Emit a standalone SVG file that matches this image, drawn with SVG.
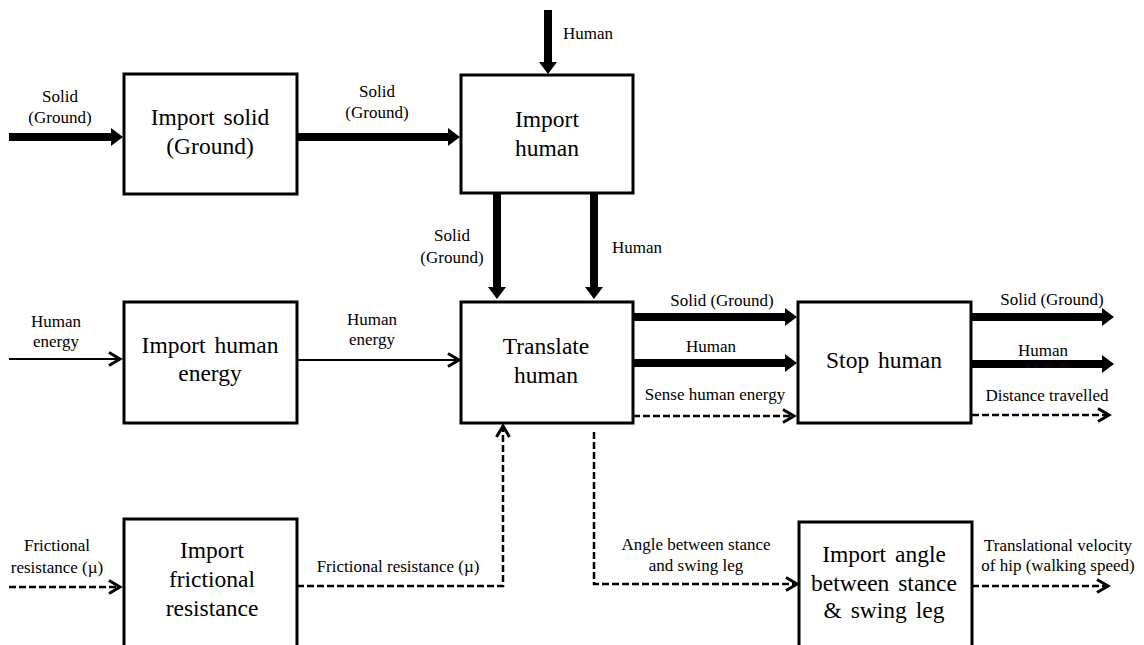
<svg xmlns="http://www.w3.org/2000/svg" width="1144" height="645" viewBox="0 0 1144 645">
<style>
.box{fill:#fff;stroke:#000;stroke-width:3}
.bt{font-family:"Liberation Serif","DejaVu Serif",serif;font-size:23.5px;text-anchor:middle;fill:#000;word-spacing:3px}
.lb{font-family:"Liberation Serif","DejaVu Serif",serif;font-size:17px;text-anchor:middle;fill:#000}
.thick{fill:none;stroke:#000;stroke-width:8;marker-end:url(#thickHead)}
.thin{fill:none;stroke:#000;stroke-width:2;marker-end:url(#open)}
.dash{fill:none;stroke:#000;stroke-width:2.5;stroke-dasharray:7 3;marker-end:url(#open)}
</style>
<defs>
<marker id="thickHead" markerUnits="userSpaceOnUse" markerWidth="12" markerHeight="18" viewBox="0 0 12 18" refX="0" refY="9" orient="auto" overflow="visible">
<path d="M0,0 L12,9 L0,18 Z" fill="#000" stroke="none"/>
</marker>
<marker id="open" markerUnits="userSpaceOnUse" markerWidth="14" markerHeight="16" viewBox="0 0 14 16" refX="12" refY="8" orient="auto" overflow="visible">
<path d="M1,1.5 L12,8 L1,14.5" fill="none" stroke="#000" stroke-width="3" stroke-dasharray="none"/>
</marker>
</defs>

<g id="connectors">
<path class="thick" d="M9,137 H111"/>
<path class="thick" d="M297,137 H448"/>
<path class="thick" d="M548,10 V62"/>
<path class="thick" d="M497,193 V287"/>
<path class="thick" d="M594,193 V287"/>
<path class="thick" d="M633,317 H785"/>
<path class="thick" d="M633,363 H785"/>
<path class="thick" d="M971,317 H1102"/>
<path class="thick" d="M971,364 H1102"/>
<path class="thin" d="M9,359 H120"/>
<path class="thin" d="M297,360 H459"/>
<path class="dash" d="M633,416 H794"/>
<path class="dash" d="M972,415 H1109"/>
<path class="dash" d="M9,587 H120"/>
<path class="dash" d="M297,586 H503 V426"/>
<path class="dash" d="M594,432 V584 H797"/>
<path class="dash" d="M972,586 H1108"/>
</g>

<g id="labels">
<text class="lb" x="60" y="102">Solid</text>
<text class="lb" x="60" y="123">(Ground)</text>
<text class="lb" x="377" y="97">Solid</text>
<text class="lb" x="377" y="118">(Ground)</text>
<text class="lb" x="563" y="39" style="text-anchor:start">Human</text>
<text class="lb" x="452" y="241">Solid</text>
<text class="lb" x="452" y="263">(Ground)</text>
<text class="lb" x="612" y="253" style="text-anchor:start">Human</text>
<text class="lb" x="56" y="327">Human</text>
<text class="lb" x="56" y="347">energy</text>
<text class="lb" x="372" y="325">Human</text>
<text class="lb" x="372" y="345">energy</text>
<text class="lb" x="722" y="306">Solid (Ground)</text>
<text class="lb" x="711" y="352">Human</text>
<text class="lb" x="715" y="400">Sense human energy</text>
<text class="lb" x="1052" y="305">Solid (Ground)</text>
<text class="lb" x="1043" y="356">Human</text>
<text class="lb" x="1047" y="401">Distance travelled</text>
<text class="lb" x="57" y="551">Frictional</text>
<text class="lb" x="57" y="573">resistance (µ)</text>
<text class="lb" x="398" y="572">Frictional resistance (µ)</text>
<text class="lb" x="696" y="550">Angle between stance</text>
<text class="lb" x="696" y="571">and swing leg</text>
<text class="lb" x="1058" y="551">Translational velocity</text>
<text class="lb" x="1058" y="571">of hip (walking speed)</text>
</g>

<g id="import-solid">
<rect class="box" x="124" y="74" width="173" height="120"/>
<text class="bt" x="210" y="125">Import solid</text>
<text class="bt" x="210" y="154">(Ground)</text>
</g>
<g id="import-human">
<rect class="box" x="461" y="75" width="172" height="118"/>
<text class="bt" x="547" y="127">Import</text>
<text class="bt" x="547" y="156">human</text>
</g>
<g id="import-human-energy">
<rect class="box" x="124" y="302" width="173" height="121"/>
<text class="bt" x="210" y="353">Import human</text>
<text class="bt" x="210" y="381">energy</text>
</g>
<g id="translate-human">
<rect class="box" x="461" y="302" width="172" height="121"/>
<text class="bt" x="546" y="354">Translate</text>
<text class="bt" x="546" y="383">human</text>
</g>
<g id="stop-human">
<rect class="box" x="798" y="302" width="173" height="121"/>
<text class="bt" x="884" y="368">Stop human</text>
</g>
<g id="import-frictional-resistance">
<rect class="box" x="124" y="519" width="173" height="140"/>
<text class="bt" x="212" y="558">Import</text>
<text class="bt" x="212" y="587">frictional</text>
<text class="bt" x="212" y="616">resistance</text>
</g>
<g id="import-angle">
<rect class="box" x="799" y="522" width="173" height="140"/>
<text class="bt" x="884" y="562">Import angle</text>
<text class="bt" x="884" y="591">between stance</text>
<text class="bt" x="884" y="618">&amp; swing leg</text>
</g>
</svg>
